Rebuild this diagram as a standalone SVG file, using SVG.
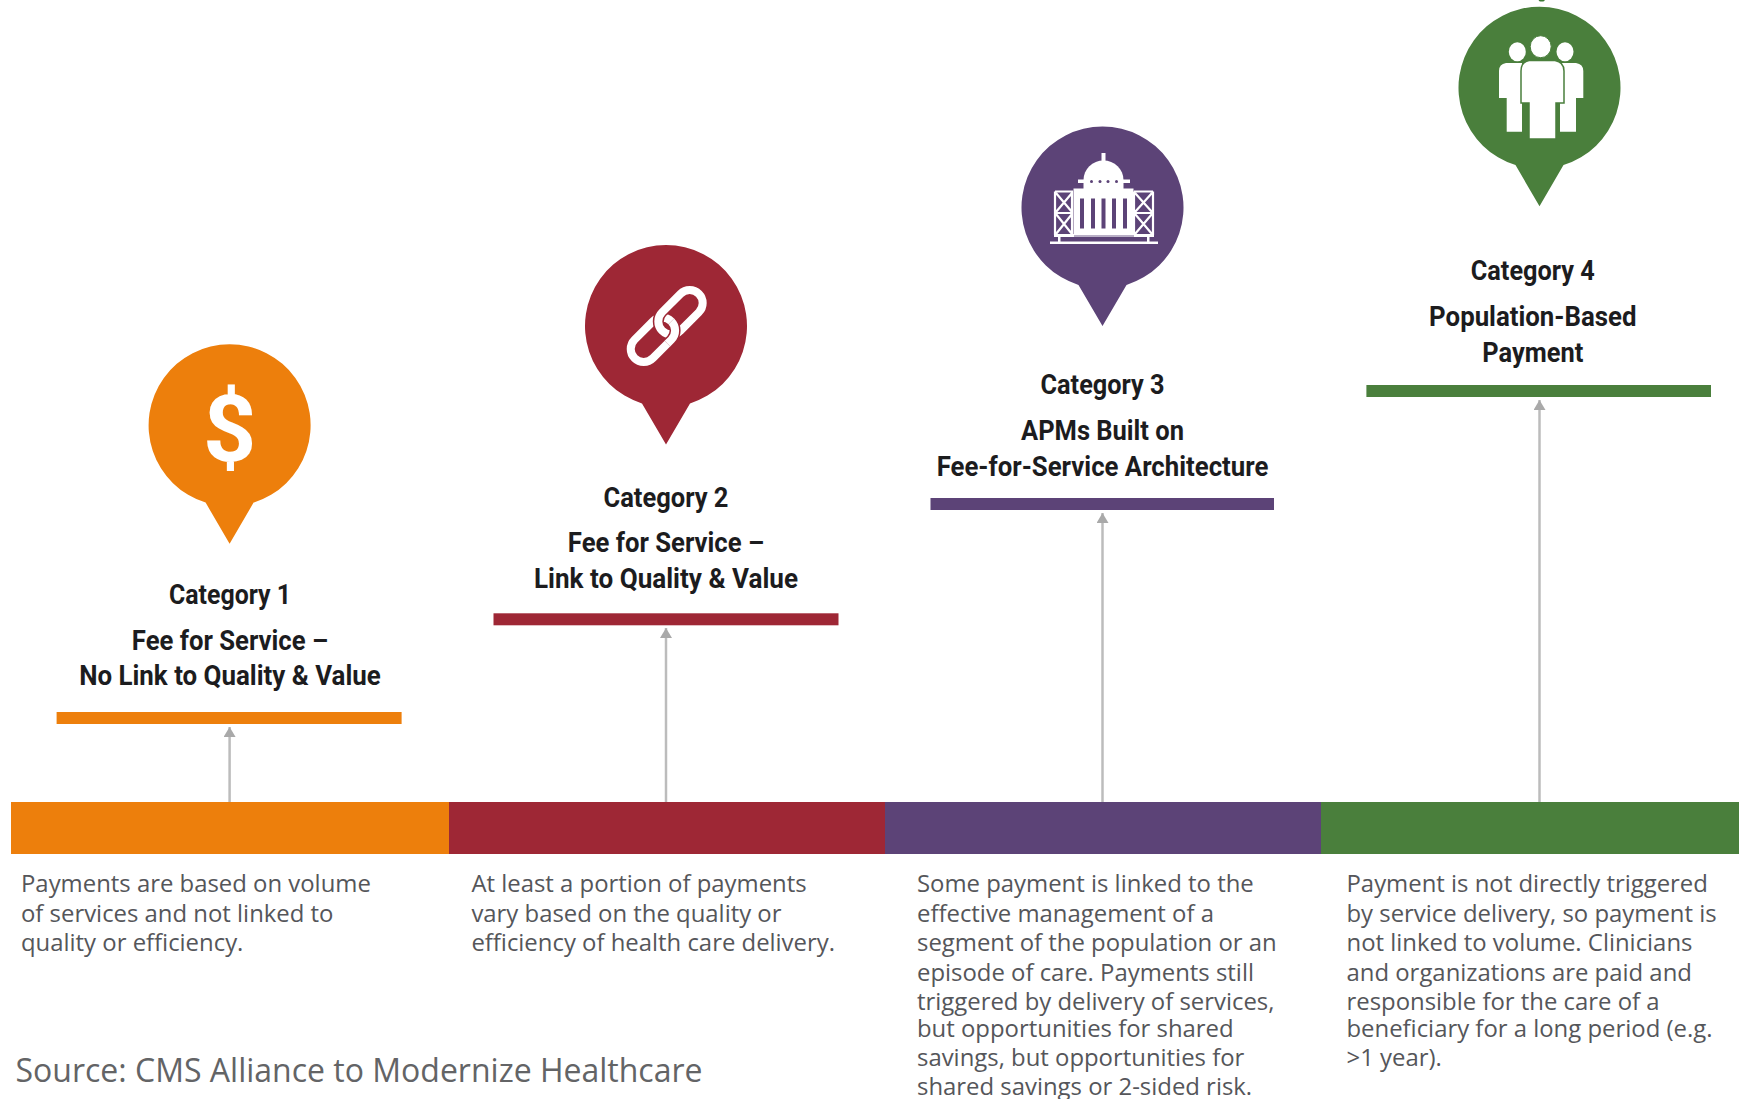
<svg xmlns="http://www.w3.org/2000/svg" width="1739" height="1099" viewBox="0 0 1739 1099">
<style>
.h{font-family:Roboto,"Liberation Sans",sans-serif;font-weight:700;font-size:27px;fill:#1c1c1e;text-anchor:middle}
.b{font-family:"Open Sans","Liberation Sans",sans-serif;font-size:23.900px;fill:#55565a}
.s{font-family:"Open Sans","Liberation Sans",sans-serif;font-size:32px;fill:#636466}
.c{stroke:#bcbcbc;stroke-width:2.500;fill:none;marker-end:url(#ah)}
.w{fill:#fff}
</style>
<defs>
<marker id="ah" markerUnits="userSpaceOnUse" markerWidth="12" markerHeight="12" refX="10" refY="6" orient="auto"><path d="M0 0L10 6L0 12z" fill="#a9a9a9"/></marker>
<path id="pin" d="M-24 77.400A81 81 0 1 1 24 77.400L0 118.500z"/>
</defs>
<rect width="1739" height="1099" fill="#fff"/>
<g id="connectors">
<path class="c" d="M229.600 802V727"/>
<path class="c" d="M666 802V628"/>
<path class="c" d="M1102.500 802V513"/>
<path class="c" d="M1539.500 802V400"/>
</g>
<g id="ribbon">
<rect x="11" y="802" width="438" height="52" fill="#ed7f0c"/>
<rect x="449" y="802" width="436" height="52" fill="#9e2735"/>
<rect x="885" y="802" width="436" height="52" fill="#5c4377"/>
<rect x="1321" y="802" width="418" height="52" fill="#4a7f3c"/>
</g>
<g id="category-1">
<use href="#pin" x="229.600" y="425.200" fill="#ed7f0c"/>
<text x="229.600" y="461" text-anchor="middle" font-family="Roboto,'Liberation Sans',sans-serif" font-weight="700" font-size="93" fill="#fff">$</text>
<text class="h" x="230" y="604" textLength="122" lengthAdjust="spacingAndGlyphs">Category 1</text>
<text class="h" x="230" y="650" textLength="196.300" lengthAdjust="spacingAndGlyphs">Fee for Service –</text>
<text class="h" x="230" y="685" textLength="301.700" lengthAdjust="spacingAndGlyphs">No Link to Quality &amp; Value</text>
<rect x="56.600" y="712" width="345" height="12" fill="#ed7f0c"/>
<text class="b" x="21" y="892">Payments are based on volume</text>
<text class="b" x="21" y="922">of services and not linked to</text>
<text class="b" x="21" y="951">quality or efficiency.</text>
</g>
<g id="category-2">
<use href="#pin" x="666" y="326" fill="#9e2735"/>
<g transform="translate(666.700 326) rotate(-45)" fill="none" stroke-width="8">
<rect x="-45.500" y="-13" width="52" height="26" rx="13" stroke="#fff"/>
<rect x="-6.500" y="-13" width="52" height="26" rx="13" stroke="#9e2735" stroke-width="11"/>
<rect x="-6.500" y="-13" width="52" height="26" rx="13" stroke="#fff"/>
<path d="M-12 13H-6.500A13 13 0 0 0 6.500 0" stroke="#9e2735" stroke-width="11"/>
<path d="M-12 13H-6.500A13 13 0 0 0 6.500 0" stroke="#fff"/>
</g>
<text class="h" x="666" y="506.500" textLength="125" lengthAdjust="spacingAndGlyphs">Category 2</text>
<text class="h" x="666" y="552" textLength="196.300" lengthAdjust="spacingAndGlyphs">Fee for Service –</text>
<text class="h" x="666" y="587.500" textLength="264" lengthAdjust="spacingAndGlyphs">Link to Quality &amp; Value</text>
<rect x="493.500" y="613.300" width="345" height="12" fill="#9e2735"/>
<text class="b" x="471.400" y="892">At least a portion of payments</text>
<text class="b" x="471.400" y="922">vary based on the quality or</text>
<text class="b" x="471.400" y="951">efficiency of health care delivery.</text>
</g>
<g id="category-3">
<use href="#pin" x="1102.500" y="207.500" fill="#5c4377"/>
<g class="w">
<rect x="1101.500" y="153" width="4" height="12"/>
<path d="M1083.500 180A20 19.500 0 0 1 1123.500 180z"/>
<rect x="1078" y="179.500" width="52" height="3.500"/>
<rect x="1083.500" y="183" width="40" height="6"/>
<rect x="1073.500" y="188.500" width="60" height="46"/>
<rect x="1054" y="234" width="100" height="3"/>
<rect x="1050" y="241.500" width="108" height="2.500"/>
<rect x="1058" y="237" width="2.500" height="5"/>
<rect x="1147" y="237" width="2.500" height="5"/>
</g>
<g fill="#5c4377">
<rect x="1080" y="198.500" width="4" height="30"/><rect x="1091" y="198.500" width="4" height="30"/><rect x="1101.500" y="198.500" width="4" height="30"/><rect x="1112" y="198.500" width="4" height="30"/><rect x="1123" y="198.500" width="4" height="30"/>
<circle cx="1091.500" cy="181.500" r="1.500"/><circle cx="1100" cy="181.500" r="1.500"/><circle cx="1108" cy="181.500" r="1.500"/><circle cx="1116.500" cy="181.500" r="1.500"/>
</g>
<path d="M1055 191.500H1073M1055 213H1073M1055 191.500V235M1072 191.500V235M1056 193L1072 212M1072 193L1056 212M1056 214L1072 234M1072 214L1056 234M1134 191.500H1153M1134 213H1153M1134 191.500V235M1153 191.500V235M1135 193L1152 212M1152 193L1135 212M1135 214L1152 234M1152 214L1135 234" stroke="#fff" stroke-width="2.200" fill="none"/>
<rect x="1074" y="235" width="60" height="2" fill="#b9afc6"/>
<text class="h" x="1102.500" y="394" textLength="124" lengthAdjust="spacingAndGlyphs">Category 3</text>
<text class="h" x="1102.500" y="440.300" textLength="163" lengthAdjust="spacingAndGlyphs">APMs Built on</text>
<text class="h" x="1102.500" y="475.500" textLength="331.600" lengthAdjust="spacingAndGlyphs">Fee-for-Service Architecture</text>
<rect x="930.500" y="498" width="343.500" height="12" fill="#5c4377"/>
<text class="b" x="917" y="892">Some payment is linked to the</text>
<text class="b" x="917" y="922">effective management of a</text>
<text class="b" x="917" y="951">segment of the population or an</text>
<text class="b" x="917" y="980.500">episode of care. Payments still</text>
<text class="b" x="917" y="1010">triggered by delivery of services,</text>
<text class="b" x="917" y="1036.500">but opportunities for shared</text>
<text class="b" x="917" y="1066">savings, but opportunities for</text>
<text class="b" x="917" y="1095">shared savings or 2-sided risk.</text>
</g>
<g id="category-4">
<use href="#pin" x="1539.500" y="87.700" fill="#4a7f3c"/>
<ellipse cx="1541.700" cy="0" rx="3" ry="1.500" fill="#3d7a35"/>
<g class="w">
<ellipse cx="1517.300" cy="51.700" rx="8.500" ry="9.500"/><ellipse cx="1565" cy="51.700" rx="8.500" ry="9.500"/>
<path d="M1506 63H1522V131.700H1506.700V98H1499V71Q1499 64 1506 63z"/>
<path d="M1576 63H1560V131.700H1576V98H1583.300V71Q1583.300 64 1576 63z"/>
</g>
<path class="w" d="M1529 60.500H1555Q1564 62 1564 71V103H1556V139H1529V103H1521V71Q1521 62 1529 60.500z" stroke="#4a7f3c" stroke-width="1.500"/>
<ellipse class="w" cx="1540.700" cy="46.700" rx="10.500" ry="11" stroke="#4a7f3c" stroke-width="1"/>
<text class="h" x="1532.800" y="279.500" textLength="124" lengthAdjust="spacingAndGlyphs">Category 4</text>
<text class="h" x="1532.800" y="326" textLength="207.400" lengthAdjust="spacingAndGlyphs">Population-Based</text>
<text class="h" x="1532.800" y="361.600" textLength="101" lengthAdjust="spacingAndGlyphs">Payment</text>
<rect x="1366.400" y="385" width="344.600" height="12" fill="#4a7f3c"/>
<text class="b" x="1346.500" y="892">Payment is not directly triggered</text>
<text class="b" x="1346.500" y="922">by service delivery, so payment is</text>
<text class="b" x="1346.500" y="951">not linked to volume. Clinicians</text>
<text class="b" x="1346.500" y="980.500">and organizations are paid and</text>
<text class="b" x="1346.500" y="1010">responsible for the care of a</text>
<text class="b" x="1346.500" y="1036.500">beneficiary for a long period (e.g.</text>
<text class="b" x="1346.500" y="1066">&gt;1 year).</text>
</g>
<text class="s" id="source" x="15.500" y="1081.500">Source: CMS Alliance to Modernize Healthcare</text>
</svg>
